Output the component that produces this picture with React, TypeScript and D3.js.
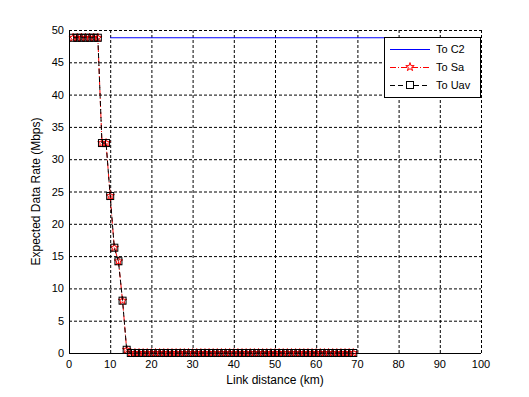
import React, { useEffect, useRef } from 'react';
import * as d3 from 'd3';

// Link distance (km) and expected rate (Mbps) for Sa / Uav (same curve)
const distances = d3.range(1, 70);
const rateValues = [
  48.8, 48.8, 48.8, 48.8, 48.8, 48.8, 48.8, 32.5, 32.5, 24.3,
  16.3, 14.2, 8.1, 0.5,
  ...new Array(55).fill(0),
];
const c2Distances = [10, 100];
const c2Values = [48.8, 48.8];
const xTicks = d3.range(0, 101, 10);
const yTicks = d3.range(0, 51, 5);
const legendLabels = ['To C2', 'To Sa', 'To Uav'];

export default function App() {
  const svgRef = useRef<SVGSVGElement>(null);

  useEffect(() => {
    if (!svgRef.current) return;
    const width = 529;
    const height = 397;
    const margin = { top: 30, right: 48, bottom: 44, left: 69 };
    const font = 'Liberation Sans, Arial, sans-serif';

    const svg = d3.select(svgRef.current);
    svg.selectAll('*').remove();
    svg.append('rect').attr('width', width).attr('height', height).attr('fill', '#fff');

    const x = d3.scaleLinear().domain([0, 100]).range([margin.left, width - margin.right]);
    const y = d3.scaleLinear().domain([0, 50]).range([height - margin.bottom, margin.top]);

    // Grid
    const grid = svg.append('g').attr('stroke', '#000').attr('stroke-width', 1).attr('stroke-dasharray', '3,2');
    xTicks.filter(t => t > 0).forEach(t => {
      grid.append('line').attr('x1', x(t) + 0.5).attr('x2', x(t) + 0.5).attr('y1', y(0)).attr('y2', y(50));
    });
    yTicks.filter(t => t > 0).forEach(t => {
      grid.append('line').attr('x1', x(0)).attr('x2', x(100)).attr('y1', y(t) + 0.5).attr('y2', y(t) + 0.5);
    });

    // Axes
    svg.append('line').attr('x1', x(0) + 0.5).attr('x2', x(0) + 0.5).attr('y1', y(0)).attr('y2', y(50)).attr('stroke', '#000');
    svg.append('line').attr('x1', x(0)).attr('x2', x(100)).attr('y1', y(0) + 0.5).attr('y2', y(0) + 0.5).attr('stroke', '#000');

    svg.append('g').selectAll('text').data(xTicks).enter().append('text')
      .attr('x', d => x(d)).attr('y', y(0) + 15)
      .attr('text-anchor', 'middle').attr('font-family', font).attr('font-size', 11)
      .text(d => d);
    svg.append('g').selectAll('text').data(yTicks).enter().append('text')
      .attr('x', x(0) - 5).attr('y', d => y(d) + 4)
      .attr('text-anchor', 'end').attr('font-family', font).attr('font-size', 11)
      .text(d => d);

    svg.append('text').attr('x', (x(0) + x(100)) / 2).attr('y', 384)
      .attr('text-anchor', 'middle').attr('font-family', font).attr('font-size', 12)
      .text('Link distance (km)');
    svg.append('text').attr('transform', `translate(40,${(y(0) + y(50)) / 2}) rotate(-90)`)
      .attr('text-anchor', 'middle').attr('font-family', font).attr('font-size', 12)
      .text('Expected Data Rate (Mbps)');

    const line = d3.line<number>().x((_, i) => x(distances[i])).y(d => y(d));

    // C2
    svg.append('path')
      .attr('d', d3.line<number>().x((_, i) => x(c2Distances[i])).y(d => y(d))(c2Values))
      .attr('fill', 'none').attr('stroke', '#0000ff').attr('stroke-width', 1.2);

    // Sa
    svg.append('path').attr('d', line(rateValues)).attr('fill', 'none')
      .attr('stroke', '#ff0000').attr('stroke-dasharray', '6,2,1,2');
    const star = d3.symbol().type(d3.symbolStar).size(22);
    svg.append('g').selectAll('path').data(rateValues).enter().append('path')
      .attr('transform', (d, i) => `translate(${x(distances[i])},${y(d)})`)
      .attr('d', star()).attr('fill', 'none').attr('stroke', '#ff0000').attr('stroke-width', 1);

    // Uav
    svg.append('path').attr('d', line(rateValues)).attr('fill', 'none')
      .attr('stroke', '#000').attr('stroke-dasharray', '5,3');
    svg.append('g').selectAll('rect').data(rateValues).enter().append('rect')
      .attr('x', (d, i) => x(distances[i]) - 3.5).attr('y', d => y(d) - 3.5)
      .attr('width', 7).attr('height', 7).attr('fill', 'none').attr('stroke', '#000');

    // Legend
    const lx = 384, ly = 37, lw = 96, lh = 60;
    svg.append('rect').attr('x', lx + 0.5).attr('y', ly + 0.5).attr('width', lw).attr('height', lh)
      .attr('fill', '#fff').attr('stroke', '#000');
    legendLabels.forEach((label, i) => {
      const yy = ly + 12 + i * 18;
      const g = svg.append('g');
      const stroke = i === 0 ? '#0000ff' : i === 1 ? '#ff0000' : '#000';
      const dash = i === 0 ? null : i === 1 ? '6,2,1,2' : '5,3';
      g.append('line').attr('x1', lx + 6).attr('x2', lx + 46).attr('y1', yy + 0.5).attr('y2', yy + 0.5)
        .attr('stroke', stroke).attr('stroke-dasharray', dash);
      if (i === 1) {
        g.append('path').attr('transform', `translate(${lx + 26},${yy})`).attr('d', star())
          .attr('fill', '#fff').attr('stroke', '#ff0000');
      }
      if (i === 2) {
        g.append('rect').attr('x', lx + 22.5).attr('y', yy - 3.5).attr('width', 7).attr('height', 7)
          .attr('fill', '#fff').attr('stroke', '#000');
      }
      g.append('text').attr('x', lx + 52).attr('y', yy + 4).attr('font-family', font).attr('font-size', 11)
        .text(label);
    });
  }, []);

  return (
    <svg ref={svgRef} width={529} height={397}
      style={{ position: 'absolute', left: 0, top: 0, display: 'block' }} />
  );
}
